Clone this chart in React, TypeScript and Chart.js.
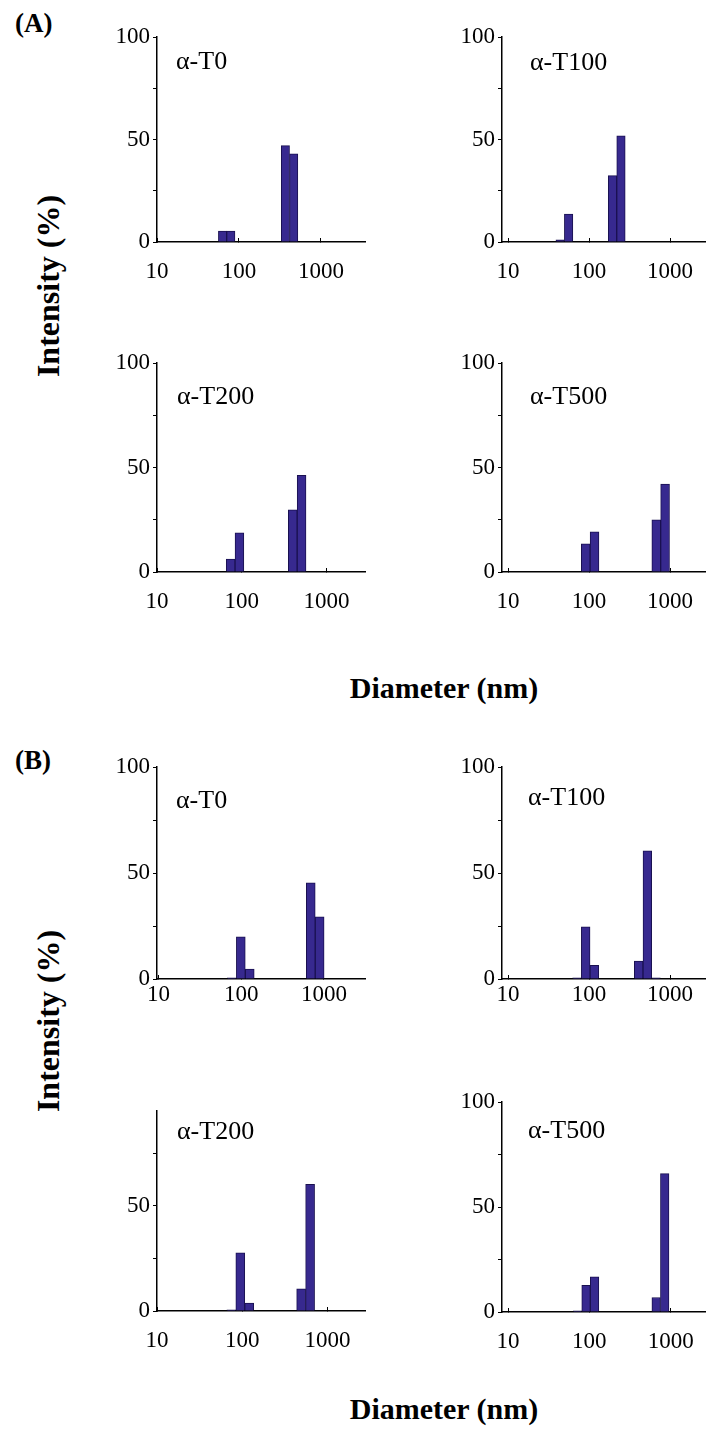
import React, { useEffect, useRef } from 'react';
import { Chart, registerables } from 'chart.js';

Chart.register(...registerables);

// ---------- data ----------
const xTickValues = [10, 100, 1000];
const yTickValues = [0, 25, 50, 75, 100];
const yLabeledTicks = [0, 50, 100];

// Panel (A)
const aT0Diameter = [63, 79.5, 368, 465];
const aT0Intensity = [5.3, 5.3, 47, 43];
const aT100Diameter = [44, 56, 195, 248];
const aT100Intensity = [1, 13.6, 32.4, 51.8];
const aT200Diameter = [74, 94, 400, 509];
const aT200Intensity = [6.2, 18.7, 29.8, 46.2];
const aT500Diameter = [91, 117, 676, 869];
const aT500Intensity = [13.5, 19.2, 25, 42.1];

// Panel (B)
const bT0Diameter = [77, 99, 127, 694, 889];
const bT0Intensity = [0.5, 19.9, 4.7, 45.4, 29.3];
const bT100Diameter = [71, 91, 116.5, 410, 525, 672];
const bT100Intensity = [0.5, 24.6, 6.5, 8.5, 60.5, 0.5];
const bT200Diameter = [74.5, 95, 121, 492, 627];
const bT200Intensity = [0.5, 27.6, 3.8, 10.5, 60.2];
const bT500Diameter = [71.5, 91, 116, 663, 845];
const bT500Intensity = [0.5, 12.7, 16.7, 6.9, 65.9];

const panelNames = ['α-T0', 'α-T100', 'α-T200', 'α-T500'];

// ---------- styles / layout ----------
const FONT = "'Liberation Serif', 'Times New Roman', serif";
const BAR_FILL = '#37298f';
const BAR_EDGE = '#1a1150';
const Y_AXIS_W = 60;
const X_AXIS_H = 45;
const PAD_TOP = 20;

type PanelCfg = {
  label: string;
  diam: number[];
  inten: number[];
  axisX: number;
  xEnd: number;
  yTop: number;
  yZero: number;
  xMin: number;
  xMax: number;
  yMax: number;
  labelPad: number;
  textX: number;
  textY: number;
};

const panels: PanelCfg[] = [
  { label: panelNames[0], diam: aT0Diameter, inten: aT0Intensity, axisX: 157, xEnd: 366, yTop: 37, yZero: 242, xMin: 10, xMax: 3540, yMax: 100, labelPad: 20, textX: 176, textY: 61 },
  { label: panelNames[1], diam: aT100Diameter, inten: aT100Intensity, axisX: 502, xEnd: 706, yTop: 37, yZero: 242, xMin: 8.43, xMax: 2780, yMax: 100, labelPad: 20, textX: 530, textY: 62 },
  { label: panelNames[2], diam: aT200Diameter, inten: aT200Intensity, axisX: 157, xEnd: 366, yTop: 363, yZero: 572, xMin: 10, xMax: 2930, yMax: 100, labelPad: 20, textX: 177, textY: 396 },
  { label: panelNames[3], diam: aT500Diameter, inten: aT500Intensity, axisX: 502, xEnd: 706, yTop: 363, yZero: 572, xMin: 8.43, xMax: 2780, yMax: 100, labelPad: 20, textX: 530, textY: 396 },
  { label: panelNames[0], diam: bT0Diameter, inten: bT0Intensity, axisX: 157, xEnd: 366, yTop: 767, yZero: 979, xMin: 9.6, xMax: 3230, yMax: 100, labelPad: 6, textX: 176, textY: 800 },
  { label: panelNames[1], diam: bT100Diameter, inten: bT100Intensity, axisX: 502, xEnd: 706, yTop: 767, yZero: 979, xMin: 8.43, xMax: 2780, yMax: 100, labelPad: 6, textX: 528, textY: 797 },
  { label: panelNames[2], diam: bT200Diameter, inten: bT200Intensity, axisX: 157, xEnd: 366, yTop: 1111, yZero: 1311, xMin: 10, xMax: 2840, yMax: 95, labelPad: 20, textX: 177, textY: 1131 },
  { label: panelNames[3], diam: bT500Diameter, inten: bT500Intensity, axisX: 502, xEnd: 706, yTop: 1102, yZero: 1312, xMin: 8.43, xMax: 2720, yMax: 100, labelPad: 20, textX: 528, textY: 1130 },
];

function Panel({ cfg }: { cfg: PanelCfg }) {
  const ref = useRef<HTMLCanvasElement | null>(null);
  const left = cfg.axisX - Y_AXIS_W;
  const top = cfg.yTop - PAD_TOP;
  const width = cfg.xEnd - left;
  const height = cfg.yZero - cfg.yTop + PAD_TOP + X_AXIS_H;

  useEffect(() => {
    if (!ref.current) return;
    const chart = new Chart(ref.current, {
      type: 'bar',
      data: {
        datasets: [
          {
            data: cfg.diam.map((d, i) => ({ x: d, y: cfg.inten[i] })),
            backgroundColor: BAR_FILL,
            borderColor: BAR_EDGE,
            borderWidth: 1,
            barPercentage: 1,
            categoryPercentage: 1,
          },
        ],
      },
      options: {
        responsive: false,
        animation: false,
        events: [],
        layout: { padding: { top: PAD_TOP, right: 0, left: 0, bottom: 0 } },
        plugins: { legend: { display: false }, tooltip: { enabled: false }, title: { display: false } },
        scales: {
          x: {
            type: 'logarithmic',
            min: cfg.xMin,
            max: cfg.xMax,
            offset: false,
            afterBuildTicks: (s: any) => {
              s.ticks = xTickValues.map((v) => ({ value: v }));
            },
            afterFit: (s: any) => {
              s.height = X_AXIS_H;
              s.paddingLeft = 0;
              s.paddingRight = 0;
            },
            grid: { display: true, offset: false, drawOnChartArea: false, drawTicks: true, tickLength: -4, color: '#000', lineWidth: 1 },
            border: { display: true, color: '#000', width: 1.5 },
            ticks: {
              color: '#000',
              font: { family: FONT, size: 23 },
              padding: cfg.labelPad,
              maxRotation: 0,
              minRotation: 0,
              autoSkip: false,
              callback: (v: any) => String(v),
            },
          },
          y: {
            type: 'linear',
            min: 0,
            max: cfg.yMax,
            afterBuildTicks: (s: any) => {
              s.ticks = yTickValues.filter((v) => v <= cfg.yMax).map((v) => ({ value: v }));
            },
            afterFit: (s: any) => {
              s.width = Y_AXIS_W;
            },
            grid: { display: true, drawOnChartArea: false, drawTicks: true, tickLength: 4, color: '#000', lineWidth: 1 },
            border: { display: true, color: '#000', width: 1.5 },
            ticks: {
              color: '#000',
              font: { family: FONT, size: 23 },
              padding: 3,
              autoSkip: false,
              callback: (v: any) => (yLabeledTicks.includes(Number(v)) ? String(v) : ''),
            },
          },
        },
      },
    } as any);
    return () => chart.destroy();
  }, [cfg]);

  return (
    <>
      <canvas
        ref={ref}
        width={width}
        height={height}
        style={{ position: 'absolute', left, top, width, height, display: 'block' }}
      />
      <div
        style={{
          position: 'absolute',
          left: cfg.textX,
          top: cfg.textY - 13,
          fontFamily: FONT,
          fontSize: 26,
          lineHeight: 1,
          whiteSpace: 'nowrap',
          color: '#000',
        }}
      >
        {cfg.label}
      </div>
    </>
  );
}

const boldText = (fontSize: number): React.CSSProperties => ({
  position: 'absolute',
  fontFamily: FONT,
  fontWeight: 'bold',
  fontSize,
  lineHeight: 1,
  whiteSpace: 'nowrap',
  color: '#000',
});

export default function App() {
  return (
    <div
      style={{
        position: 'absolute',
        left: 0,
        top: 0,
        width: 706,
        height: 1434,
        background: '#fff',
        overflow: 'hidden',
      }}
    >
      <div style={{ ...boldText(27), left: 15, top: 10 }}>(A)</div>
      <div style={{ ...boldText(27), left: 15, top: 747 }}>(B)</div>
      <div style={{ ...boldText(32), left: 48, top: 286, transform: 'translate(-50%, -50%) rotate(-90deg)' }}>Intensity (%)</div>
      <div style={{ ...boldText(32), left: 48, top: 1021, transform: 'translate(-50%, -50%) rotate(-90deg)' }}>Intensity (%)</div>
      <div style={{ ...boldText(30), left: 444, top: 688, transform: 'translate(-50%, -50%)' }}>Diameter (nm)</div>
      <div style={{ ...boldText(30), left: 444, top: 1409, transform: 'translate(-50%, -50%)' }}>Diameter (nm)</div>
      {panels.map((p, i) => (
        <Panel key={i} cfg={p} />
      ))}
    </div>
  );
}
